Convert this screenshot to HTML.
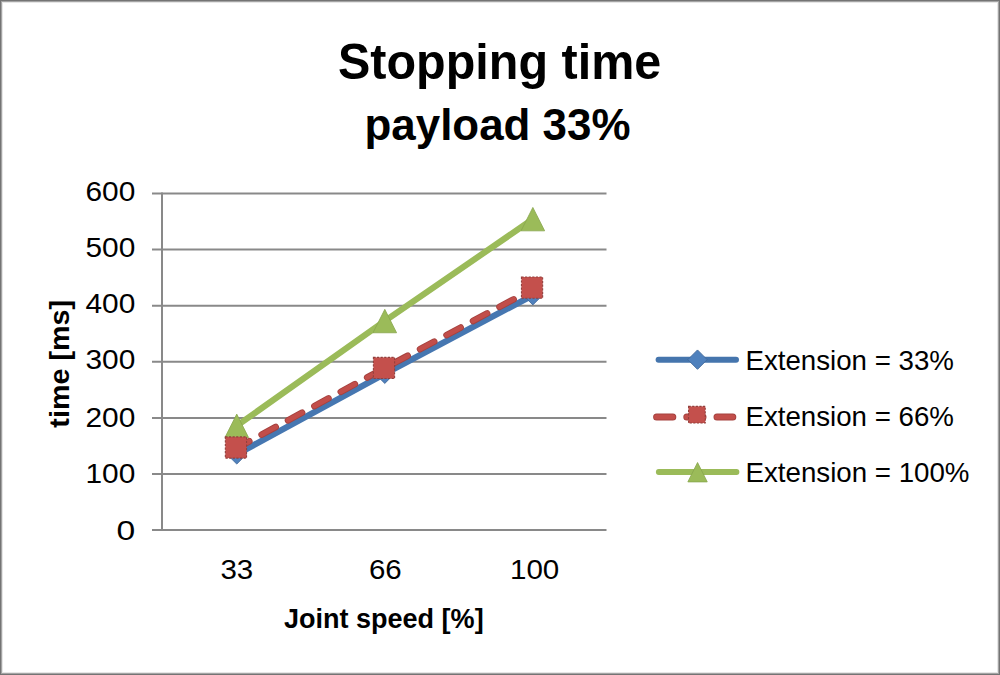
<!DOCTYPE html>
<html><head><meta charset="utf-8"><title>Stopping time payload 33%</title>
<style>
html,body{margin:0;padding:0;background:#fff;}
#c{position:relative;width:1000px;height:675px;overflow:hidden;background:#fff;}
#c svg{position:absolute;left:0;top:0;display:block;}
#b1{position:absolute;left:0;top:0;width:1000px;height:675px;box-sizing:border-box;border:1px solid #747474;}
#b2{position:absolute;left:1px;top:1px;width:998px;height:673px;box-sizing:border-box;border:1px solid #a4a4a4;}
#b3{position:absolute;left:2px;top:2px;width:996px;height:671px;box-sizing:border-box;border:1px solid #e6e6e6;}
</style></head>
<body><div id="c">
<svg width="1000" height="675" viewBox="0 0 1000 675">
<rect x="0" y="0" width="1000" height="675" fill="#fff"/>
<g fill="none" stroke="#898989" stroke-width="2"><line x1="152" y1="474.00" x2="606.5" y2="474.00"/><line x1="152" y1="417.90" x2="606.5" y2="417.90"/><line x1="152" y1="361.80" x2="606.5" y2="361.80"/><line x1="152" y1="305.70" x2="606.5" y2="305.70"/><line x1="152" y1="249.60" x2="606.5" y2="249.60"/><line x1="152" y1="193.50" x2="606.5" y2="193.50"/>
<line x1="162" y1="192.5" x2="162" y2="530.1"/>
<line x1="152" y1="530.1" x2="606.5" y2="530.1"/>
</g>
<g fill="#000" style="font-variant-ligatures:none;font-kerning:normal">
<text x="499.65" y="79.00" font-family='"Liberation Sans", Arial, sans-serif' font-size="50" font-weight="bold" text-anchor="middle" textLength="323.30" lengthAdjust="spacingAndGlyphs">Stopping time</text>
<text x="497.50" y="139.60" font-family='"Liberation Sans", Arial, sans-serif' font-size="45" font-weight="bold" text-anchor="middle" textLength="266.00" lengthAdjust="spacingAndGlyphs">payload 33%</text>
<text transform="translate(68.80,363.75) rotate(-90)" font-family='"Liberation Sans", Arial, sans-serif' font-size="28" font-weight="bold" text-anchor="middle" textLength="127.80" lengthAdjust="spacingAndGlyphs">time [ms]</text>
<text x="383.80" y="627.70" font-family='"Liberation Sans", Arial, sans-serif' font-size="27.5" font-weight="bold" text-anchor="middle" textLength="199.70" lengthAdjust="spacingAndGlyphs">Joint speed [%]</text>
<text x="135.30" y="201.25" font-family='"Liberation Sans", Arial, sans-serif' font-size="28" font-weight="normal" text-anchor="end" textLength="49.80" lengthAdjust="spacingAndGlyphs">600</text>
<text x="135.30" y="257.40" font-family='"Liberation Sans", Arial, sans-serif' font-size="28" font-weight="normal" text-anchor="end" textLength="49.80" lengthAdjust="spacingAndGlyphs">500</text>
<text x="135.30" y="313.20" font-family='"Liberation Sans", Arial, sans-serif' font-size="28" font-weight="normal" text-anchor="end" textLength="49.80" lengthAdjust="spacingAndGlyphs">400</text>
<text x="135.30" y="369.40" font-family='"Liberation Sans", Arial, sans-serif' font-size="28" font-weight="normal" text-anchor="end" textLength="49.80" lengthAdjust="spacingAndGlyphs">300</text>
<text x="135.30" y="427.20" font-family='"Liberation Sans", Arial, sans-serif' font-size="28" font-weight="normal" text-anchor="end" textLength="49.80" lengthAdjust="spacingAndGlyphs">200</text>
<text x="135.30" y="483.40" font-family='"Liberation Sans", Arial, sans-serif' font-size="28" font-weight="normal" text-anchor="end" textLength="49.80" lengthAdjust="spacingAndGlyphs">100</text>
<text x="135.30" y="539.50" font-family='"Liberation Sans", Arial, sans-serif' font-size="28" font-weight="normal" text-anchor="end" textLength="18.70" lengthAdjust="spacingAndGlyphs">0</text>
<text x="236.85" y="579.30" font-family='"Liberation Sans", Arial, sans-serif' font-size="28" font-weight="normal" text-anchor="middle" textLength="32.80" lengthAdjust="spacingAndGlyphs">33</text>
<text x="385.35" y="579.30" font-family='"Liberation Sans", Arial, sans-serif' font-size="28" font-weight="normal" text-anchor="middle" textLength="32.80" lengthAdjust="spacingAndGlyphs">66</text>
<text x="534.65" y="579.30" font-family='"Liberation Sans", Arial, sans-serif' font-size="28" font-weight="normal" text-anchor="middle" textLength="49.30" lengthAdjust="spacingAndGlyphs">100</text>
<text x="745.50" y="369.70" font-family='"Liberation Sans", Arial, sans-serif' font-size="28" font-weight="normal" text-anchor="start" textLength="208.40" lengthAdjust="spacingAndGlyphs">Extension = 33%</text>
<text x="745.50" y="425.90" font-family='"Liberation Sans", Arial, sans-serif' font-size="28" font-weight="normal" text-anchor="start" textLength="208.40" lengthAdjust="spacingAndGlyphs">Extension = 66%</text>
<text x="745.50" y="482.10" font-family='"Liberation Sans", Arial, sans-serif' font-size="28" font-weight="normal" text-anchor="start" textLength="224.00" lengthAdjust="spacingAndGlyphs">Extension = 100%</text>
</g>
<polyline points="236.75,425.81 384.80,321.07 532.85,219.14" fill="none" stroke="#9bbb59" stroke-width="6.2" stroke-linejoin="round" stroke-linecap="round"/>
<polyline points="236.75,454.37 384.80,373.75 532.85,295.21" fill="none" stroke="#4677b1" stroke-width="6.2" stroke-linejoin="round" stroke-linecap="round"/>
<path d="M236.75 414.11L248.55 437.51L224.95 437.51Z" fill="#9bbb59" stroke="#88a64c" stroke-width="0.8"/><path d="M384.80 309.37L396.60 332.77L373.00 332.77Z" fill="#9bbb59" stroke="#88a64c" stroke-width="0.8"/><path d="M532.85 207.44L544.65 230.84L521.05 230.84Z" fill="#9bbb59" stroke="#88a64c" stroke-width="0.8"/>
<path d="M236.75 444.67L246.45 454.37L236.75 464.06L227.05 454.37Z" fill="#4f81bd" stroke="#41699a" stroke-width="0.9"/><path d="M384.80 364.05L394.50 373.75L384.80 383.45L375.10 373.75Z" fill="#4f81bd" stroke="#41699a" stroke-width="0.9"/><path d="M532.85 285.51L542.55 295.21L532.85 304.91L523.15 295.21Z" fill="#4f81bd" stroke="#41699a" stroke-width="0.9"/>
<polyline points="236.75,448.08 384.80,367.97 532.85,289.09" fill="none" stroke="#a5423f" stroke-width="6.6" stroke-linejoin="round" stroke-linecap="round" stroke-dasharray="16 14" stroke-dashoffset="1.7"/>
<polyline points="236.75,448.08 384.80,367.97 532.85,289.09" fill="none" stroke="#c24e4a" stroke-width="4.8" stroke-linejoin="round" stroke-linecap="round" stroke-dasharray="16 14" stroke-dashoffset="1.7"/>
<rect x="225.35" y="436.92" width="21.20" height="21.20" fill="#c4504c" stroke="#93403d" stroke-width="1.1" stroke-dasharray="2.2 1.4"/><rect x="373.40" y="357.37" width="21.20" height="21.20" fill="#c4504c" stroke="#93403d" stroke-width="1.1" stroke-dasharray="2.2 1.4"/><rect x="521.45" y="276.98" width="21.20" height="21.20" fill="#c4504c" stroke="#93403d" stroke-width="1.1" stroke-dasharray="2.2 1.4"/>
<line x1="658.6" y1="359.8" x2="736" y2="359.8" stroke="#4575ad" stroke-width="6" stroke-linecap="round"/>
<path d="M697.50 349.95L707.20 359.65L697.50 369.35L687.80 359.65Z" fill="#4f81bd" stroke="#41699a" stroke-width="0.9"/>
<line x1="656.6" y1="417" x2="732.8" y2="417" stroke="#a5423f" stroke-width="7" stroke-linecap="round" stroke-dasharray="16.2 14"/>
<line x1="656.6" y1="417" x2="732.8" y2="417" stroke="#c24e4a" stroke-width="5.2" stroke-linecap="round" stroke-dasharray="16.2 14"/>
<rect x="688.55" y="406.35" width="16.70" height="16.70" fill="#c4504c" stroke="#93403d" stroke-width="1.1" stroke-dasharray="2.2 1.4"/>
<line x1="658.8" y1="472" x2="736.5" y2="472" stroke="#9bbb59" stroke-width="5.8" stroke-linecap="round"/>
<path d="M697.55 462.50L707.25 481.90L687.85 481.90Z" fill="#9bbb59" stroke="#88a64c" stroke-width="0.8"/>
</svg>
<div id="b1"></div><div id="b2"></div><div id="b3"></div>
</div></body></html>
